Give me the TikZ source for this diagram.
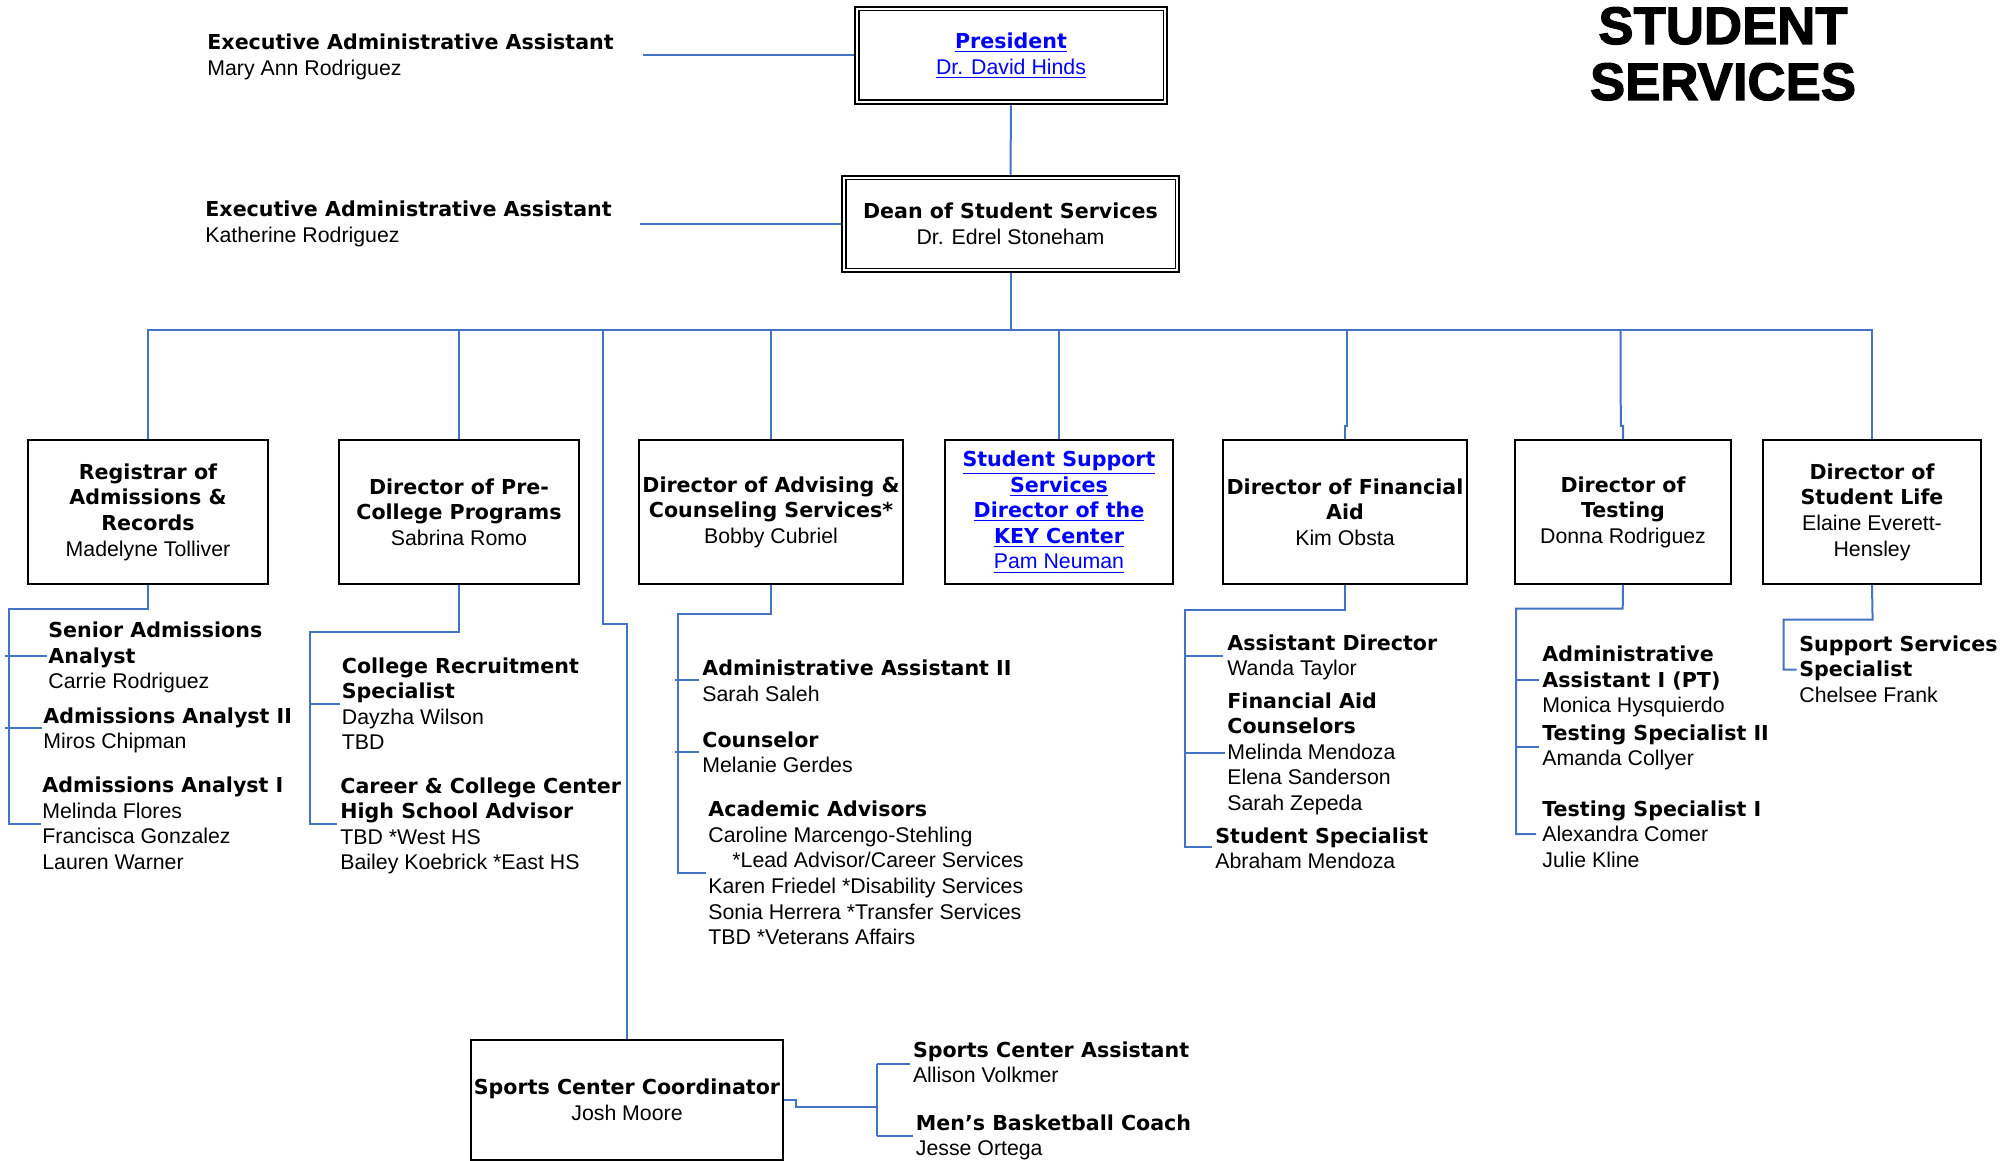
\documentclass[tikz,border=0pt]{standalone}
\usepackage{fontspec}
\setmainfont{Liberation Sans}
\newfontfamily\hfam{DejaVu Sans}
\newfontfamily\tfam{Liberation Sans Bold}[FakeBold=2.2]
\definecolor{lineblue}{HTML}{4472C4}
\definecolor{linkblue}{HTML}{0000FF}
\newcommand{\regf}{\fontsize{10.65}{12.8}\selectfont}
\newcommand{\hdtxt}[1]{{\hfam\bfseries\fontsize{10.3}{12.8}\selectfont #1}}
\newcommand{\lnk}[1]{\textcolor{linkblue}{\underline{#1}}}
\newcommand{\blk}[1]{\begin{tabular}[t]{@{}l@{}}#1\end{tabular}}
\begin{document}
\begin{tikzpicture}[x=0.5pt,y=-0.5pt,
  box/.style={draw=black,line width=1.2pt,inner sep=0pt,align=center,font=\regf},
  dbox/.style={draw=black,line width=1.4pt,inner sep=0pt,align=center,font=\regf},
  conn/.style={draw=lineblue,line width=1pt},
  lbl/.style={anchor=base west,inner sep=0pt,font=\regf}]
\useasboundingbox (0,0) rectangle (2015,1161);

% title
\node[anchor=base,inner sep=0pt,font=\tfam\fontsize{26.4}{28}\selectfont] (title) at (1723,44) {\begin{tabular}[t]{@{}c@{}}STUDENT\\SERVICES\end{tabular}};

% top boxes
\node[dbox,minimum width=156pt,minimum height=48.5pt] (pres) at (1011,55.5) {\lnk{\hdtxt{President}}\\ \lnk{Dr. David Hinds}};
\draw[line width=0.9pt] ([shift={(2.5pt,-2.5pt)}]pres.north west) rectangle ([shift={(-2.5pt,2.5pt)}]pres.south east);
\node[dbox,minimum width=168.5pt,minimum height=48pt] (dean) at (1010.5,224) {\hdtxt{Dean of Student Services}\\ Dr. Edrel Stoneham};
\draw[line width=0.9pt] ([shift={(2.5pt,-2.5pt)}]dean.north west) rectangle ([shift={(-2.5pt,2.5pt)}]dean.south east);

\node[lbl] (ea1) at (207,50) {\blk{\hdtxt{Executive Administrative Assistant}\\ Mary Ann Rodriguez}};
\node[lbl] (ea2) at (205,217) {\blk{\hdtxt{Executive Administrative Assistant}\\ Katherine Rodriguez}};
\coordinate (ea1end) at (643,55.5);
\coordinate (ea2end) at (640,224);

% department boxes
\node[box,minimum width=120pt,minimum height=72pt] (reg) at (148,512) {\hdtxt{Registrar of}\\ \hdtxt{Admissions \&}\\ \hdtxt{Records}\\ Madelyne Tolliver};
\node[box,minimum width=120pt,minimum height=72pt] (pre) at (459,512) {\hdtxt{Director of Pre-}\\ \hdtxt{College Programs}\\ Sabrina Romo};
\node[box,minimum width=132pt,minimum height=72pt] (adv) at (771,512) {\hdtxt{Director of Advising \&}\\ \hdtxt{Counseling Services*}\\ Bobby Cubriel};
\node[box,minimum width=114pt,minimum height=72pt] (sss) at (1059,512) {\lnk{\hdtxt{Student Support}}\\ \lnk{\hdtxt{Services}}\\ \lnk{\hdtxt{Director of the}}\\ \lnk{\hdtxt{KEY Center}}\\ \lnk{Pam Neuman}};
\node[box,minimum width=122pt,minimum height=72pt] (fin) at (1345,512) {\hdtxt{Director of Financial}\\ \hdtxt{Aid}\\ Kim Obsta};
\node[box,minimum width=108pt,minimum height=72pt] (test) at (1623,512) {\hdtxt{Director of}\\ \hdtxt{Testing}\\ Donna Rodriguez};
\node[box,minimum width=109pt,minimum height=72pt] (life) at (1872,512) {\hdtxt{Director of}\\ \hdtxt{Student Life}\\ Elaine Everett-\\ Hensley};
\node[box,minimum width=156pt,minimum height=60pt] (sports) at (627,1100) {\hdtxt{Sports Center Coordinator}\\ Josh Moore};

% staff text
\node[lbl] (sraa) at (48,637.5) {\blk{\hdtxt{Senior Admissions}\\ \hdtxt{Analyst}\\ Carrie Rodriguez}};
\node[lbl] (aa2) at (43,723) {\blk{\hdtxt{Admissions Analyst II}\\ Miros Chipman}};
\node[lbl] (aa1) at (42,792.5) {\blk{\hdtxt{Admissions Analyst I}\\ Melinda Flores\\ Francisca Gonzalez\\ Lauren Warner}};
\node[lbl] (crs) at (341.5,673) {\blk{\hdtxt{College Recruitment}\\ \hdtxt{Specialist}\\ Dayzha Wilson\\ TBD}};
\node[lbl] (ccc) at (340,793) {\blk{\hdtxt{Career \& College Center}\\ \hdtxt{High School Advisor}\\ TBD *West HS\\ Bailey Koebrick *East HS}};
\node[lbl] (aadv) at (702,675.5) {\blk{\hdtxt{Administrative Assistant II}\\ Sarah Saleh}};
\node[lbl] (couns) at (702,747) {\blk{\hdtxt{Counselor}\\ Melanie Gerdes}};
\node[lbl] (acad) at (708,816.6) {\blk{\hdtxt{Academic Advisors}\\ Caroline Marcengo-Stehling\\ \hspace*{12pt}*Lead Advisor/Career Services\\ Karen Friedel *Disability Services\\ Sonia Herrera *Transfer Services\\ TBD *Veterans Affairs}};
\node[lbl] (asdir) at (1227,650) {\blk{\hdtxt{Assistant Director}\\ Wanda Taylor}};
\node[lbl] (faco) at (1227,708) {\blk{\hdtxt{Financial Aid}\\ \hdtxt{Counselors}\\ Melinda Mendoza\\ Elena Sanderson\\ Sarah Zepeda}};
\node[lbl] (stsp) at (1215,843) {\blk{\hdtxt{Student Specialist}\\ Abraham Mendoza}};
\node[lbl] (admt) at (1542,661.7) {\blk{\hdtxt{Administrative}\\ \hdtxt{Assistant I (PT)}\\ Monica Hysquierdo}};
\node[lbl] (ts2) at (1542,740) {\blk{\hdtxt{Testing Specialist II}\\ Amanda Collyer}};
\node[lbl] (ts1) at (1542,816) {\blk{\hdtxt{Testing Specialist I}\\ Alexandra Comer\\ Julie Kline}};
\node[lbl] (suss) at (1799,651.3) {\blk{\hdtxt{Support Services}\\ \hdtxt{Specialist}\\ Chelsee Frank}};
\node[lbl] (sca) at (912.6,1057) {\blk{\hdtxt{Sports Center Assistant}\\ Allison Volkmer}};
\node[lbl] (mbc) at (915.5,1130) {\blk{\hdtxt{Men’s Basketball Coach}\\ Jesse Ortega}};

% connectors: top
\coordinate (bus) at (1010.5,329.5);
\draw[conn] (pres.south) -- (dean.north);
\draw[conn] (ea1end) -- (pres.west);
\draw[conn] (ea2end) -- (dean.west);
\draw[conn] (dean.south) -- (bus);
\draw[conn] (reg.north) |- (bus) -| (life.north);
\draw[conn] (pre.north) -- (pre.north |- bus);
\draw[conn] (adv.north) -- (adv.north |- bus);
\draw[conn] (sss.north) -- (sss.north |- bus);
\draw[conn] (fin.north) -- ++(0,-13) -- ++(2,0) -- (1347,329.5);
\draw[conn] (test.north) -- ++(0,-13) -- ++(-2.2,0) -- (1620.5,329.5);
\draw[conn] (603,329.5) -- (603,624) -- (627,624) -- (sports.north);

% registrar tree
\draw[conn] (reg.south) -- (148,609) -- (9,609) -- (9,823.5) -- (41,823.5);
\draw[conn] (5,656) -- (47,656);
\draw[conn] (5,727.5) -- (42,727.5);
% pre-college tree
\draw[conn] (pre.south) -- (459,632) -- (310,632) -- (310,823.5) -- (337,823.5);
\draw[conn] (310,704) -- (340,704);
% advising tree
\draw[conn] (adv.south) -- (771,614) -- (678,614) -- (678,873) -- (706,873);
\draw[conn] (675,680) -- (699,680);
\draw[conn] (675,752) -- (699,752);
% financial aid tree
\draw[conn] (fin.south) -- (1345,610) -- (1184.5,610) -- (1184.5,847) -- (1212,847);
\draw[conn] (1184.5,656) -- (1223,656);
\draw[conn] (1184.5,752.7) -- (1224.5,752.7);
% testing tree
\draw[conn] (test.south) -- (1622.7,608.5) -- (1516,608.5) -- (1516,834) -- (1536,834);
\draw[conn] (1516,680) -- (1539,680);
\draw[conn] (1516,746.6) -- (1539,746.6);
% student life tree
\draw[conn] (life.south) -- (1872.6,619.6) -- (1783.7,619.6) -- (1783.7,669.7) -- (1796.5,669.7);
% sports tree
\draw[conn] (sports.east) -- (795.5,1100) -- (795.5,1106.7) -- (876.5,1106.7);
\draw[conn] (876.5,1064) -- (876.5,1135.7);
\draw[conn] (876.5,1064) -- (909.8,1064);
\draw[conn] (876.5,1135.7) -- (912.6,1135.7);
\end{tikzpicture}
\end{document}
